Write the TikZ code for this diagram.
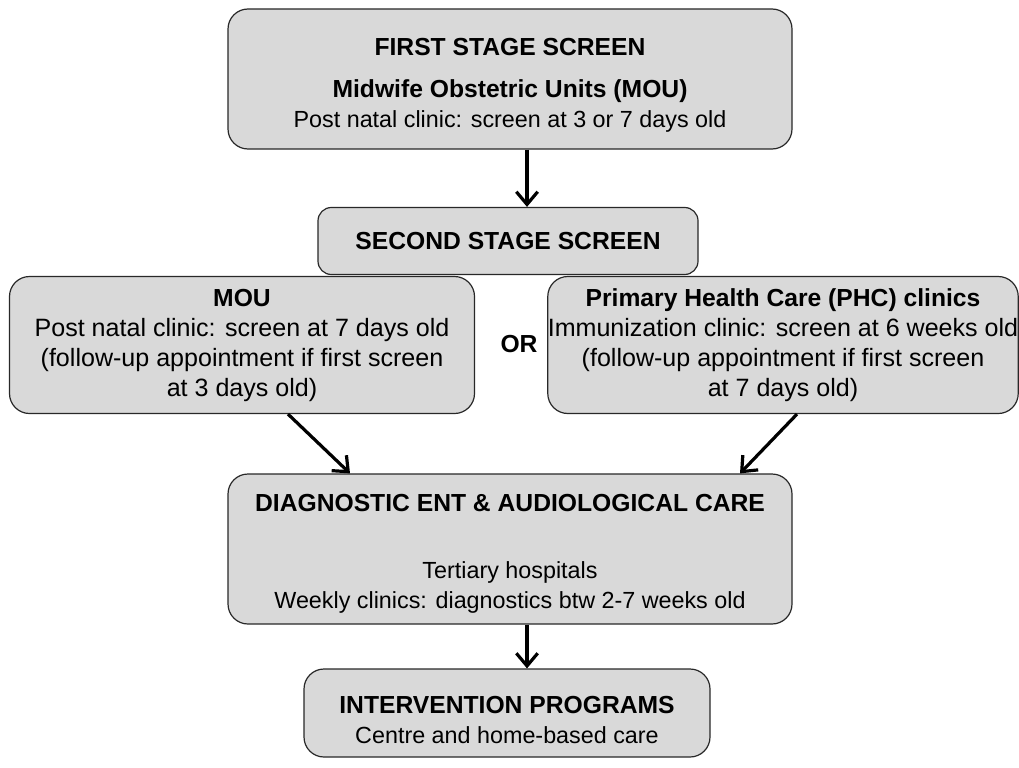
\documentclass[tikz,border=0pt]{standalone}
\usepackage{fontspec}
\setmainfont{Liberation Sans}
\usetikzlibrary{arrows.meta,calc}
\definecolor{boxfill}{RGB}{217,217,217}
\definecolor{boxline}{RGB}{40,40,40}
\newcommand{\rg}{\fontsize{17.5}{22.5}\selectfont}
\newcommand{\rgl}{\fontsize{18.8}{22.5}\selectfont}
\newcommand{\bd}{\fontsize{18.5}{22.5}\selectfont\bfseries}
\tikzset{
  box/.style={draw=boxline, fill=boxfill, line width=0.9pt, inner sep=0pt,
    align=center, font=\rg},
  flow/.style={line width=2.4pt, -{Straight Barb[length=9.5pt,width=16pt]}},
}
\begin{document}
\begin{tikzpicture}[x=0.75pt,y=-0.75pt]
\useasboundingbox (0,0) rectangle (1019,767);
\node[box, rounded corners=15pt, minimum width=564*0.75pt, minimum height=140*0.75pt] (first) at (510,79)
  {\rule{0pt}{22pt}{\bd FIRST STAGE SCREEN}\\[9pt]{\bd Midwife Obstetric Units (MOU)}\\Post natal clinic: screen at 3 or 7 days old};
\node[box, rounded corners=10pt, minimum width=380*0.75pt, minimum height=67*0.75pt] (second) at (508,241)
  {\bd SECOND STAGE SCREEN};
\node[box, font=\rgl, rounded corners=15pt, minimum width=465*0.75pt, minimum height=137*0.75pt] (mou) at (242,345)
  {{\bd MOU}\\Post natal clinic: screen at 7 days old\\(follow-up appointment if first screen\\at 3 days old)};
\node[box, font=\rgl, rounded corners=15pt, minimum width=467*0.75pt, minimum height=137*0.75pt] (phc) at (783,345)
  {{\bd Primary Health Care (PHC) clinics}\\Immunization clinic: screen at 6 weeks old\\(follow-up appointment if first screen\\at 7 days old)};
\node[font=\bd] (or) at (519,344) {OR};
\node[box, rounded corners=15pt, minimum width=564*0.75pt, minimum height=150*0.75pt] (diag) at (510,549)
  {\rule{0pt}{20.5pt}{\bd DIAGNOSTIC ENT \& AUDIOLOGICAL CARE}\\[28pt]Tertiary hospitals\\Weekly clinics: diagnostics btw 2-7 weeks old};
\node[box, rounded corners=15pt, minimum width=406*0.75pt, minimum height=88*0.75pt] (interv) at (507,713)
  {\rule{0pt}{24pt}{\bd INTERVENTION PROGRAMS}\\Centre and home-based care};
\draw[flow] ([xshift=12.75pt]first.south) -- ([xshift=14.25pt]second.north);
\draw[flow] ([xshift=34.5pt]mou.south) -- ([xshift=-120pt]diag.north);
\draw[flow] ([xshift=10.5pt]phc.south) -- ([xshift=172.5pt]diag.north);
\draw[flow] ([xshift=12.75pt]diag.south) -- ([xshift=15pt]interv.north);
\end{tikzpicture}
\end{document}
